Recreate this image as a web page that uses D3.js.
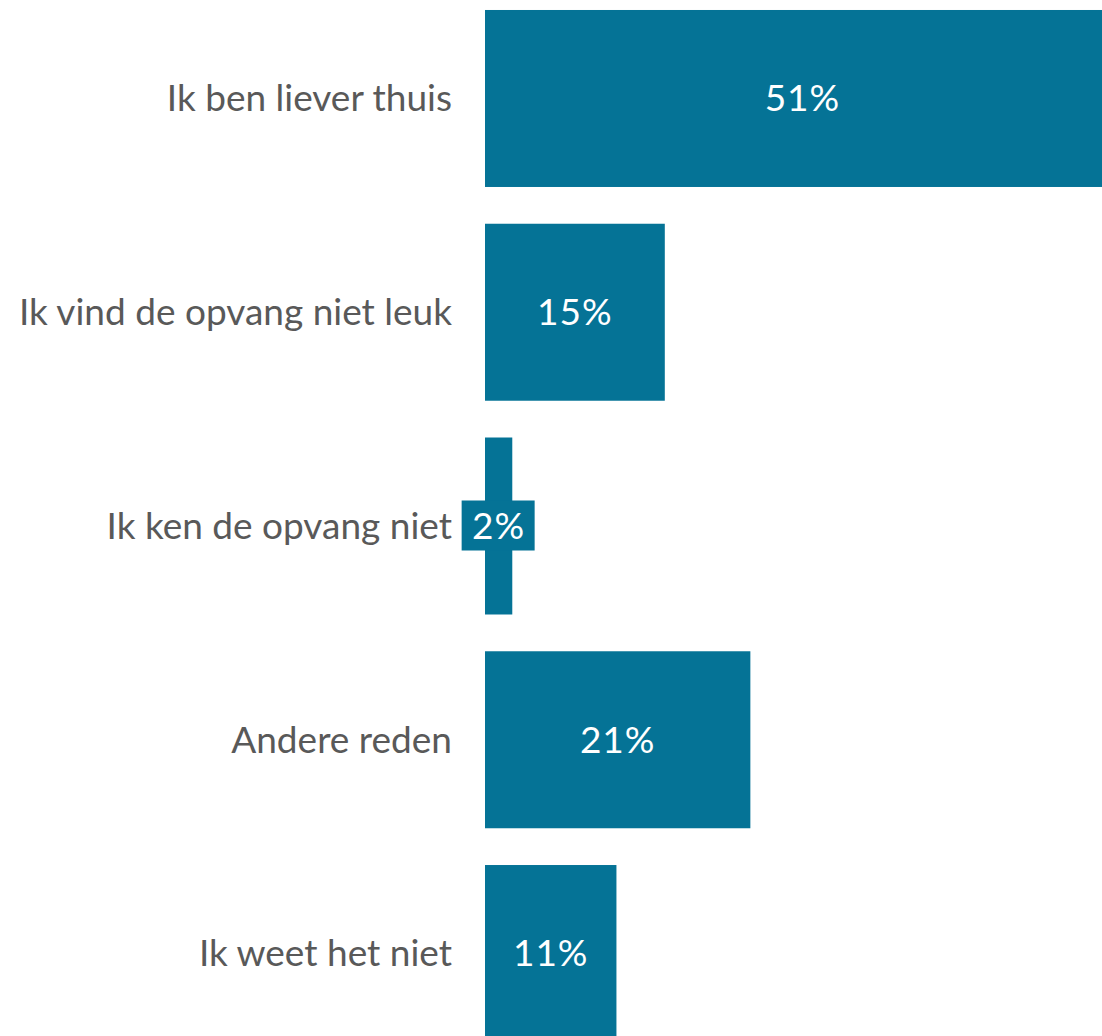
<!DOCTYPE html>
<html><head><meta charset="utf-8">
<script src="https://cdn.jsdelivr.net/npm/d3@7"></script>
<style>body{margin:0;background:#fff}svg{display:block}</style>
</head><body>
<script>
const categories = ["Ik ben liever thuis","Ik vind de opvang niet leuk","Ik ken de opvang niet","Andere reden","Ik weet het niet"];
const values = [51.2, 14.5, 2.2, 21.4, 10.6];

const W = 1102, H = 1036;
const svg = d3.select("body").append("svg").attr("width", W).attr("height", H);
const x = d3.scaleLinear().domain([0, 50]).range([485, 1105]);
const y = d3.scaleBand().domain(categories).range([-8.4, 1060.4]).paddingInner(0.172).paddingOuter(0.086);

const teal = "#057396";
svg.selectAll("rect.bar").data(values).join("rect").attr("class","bar")
  .attr("x", x(0)).attr("y", (d,i)=>y(categories[i]))
  .attr("width", d=>x(d)-x(0)).attr("height", y.bandwidth()).attr("fill", teal);

svg.selectAll("text.cat").data(categories).join("text").attr("class","cat")
  .attr("x", 452).attr("y", d=>y(d)+y.bandwidth()/2).attr("dy","0.35em")
  .attr("text-anchor","end").attr("fill","#595959")
  .style("font-family","Lato, 'Open Sans', sans-serif").style("font-size","37px")
  .text(d=>d);

const lab = svg.selectAll("g.lab").data(values).join("g").attr("class","lab");
lab.each(function(d,i){
  const g = d3.select(this);
  const cx = (x(0)+x(d))/2, cy = y(categories[i])+y.bandwidth()/2;
  const t = g.append("text").attr("x", cx).attr("y", cy).attr("dy","0.35em")
    .attr("text-anchor","middle").attr("fill","#fff")
    .style("font-family","Lato, 'Open Sans', sans-serif").style("font-size","37px")
    .style("letter-spacing","1px")
    .text(Math.round(d)+"%");
  const bb = t.node().getBBox();
  if (bb.width + 10 > x(d)-x(0)) {
    g.insert("rect","text").attr("x", cx-37).attr("y", cy-25.5).attr("width", 73).attr("height", 50).attr("fill", teal);
  }
});
</script>
</body></html>
